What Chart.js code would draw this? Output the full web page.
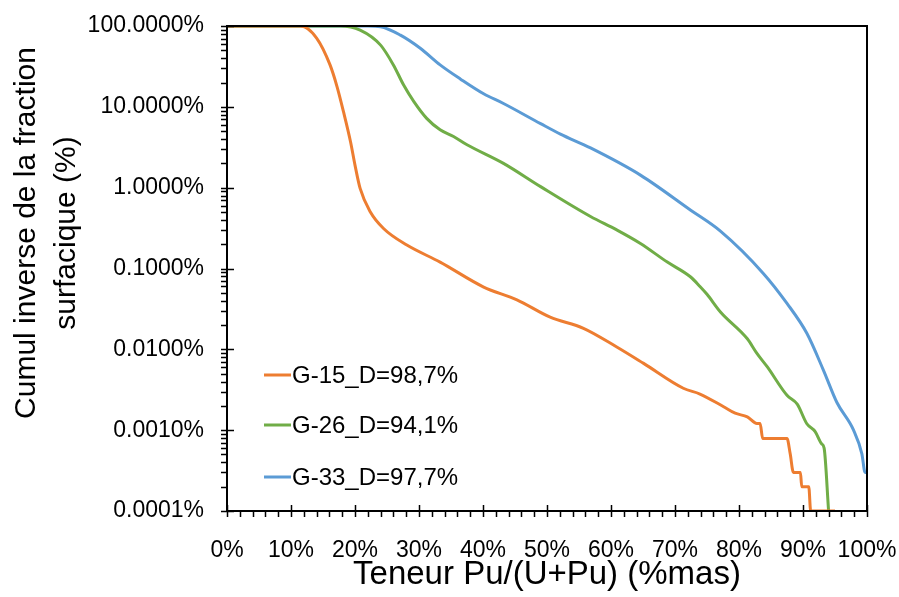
<!DOCTYPE html>
<html>
<head>
<meta charset="utf-8">
<script src="https://cdn.jsdelivr.net/npm/chart.js@4/dist/chart.umd.min.js"></script>
<style>
  html, body { margin: 0; padding: 0; background: #fff; }
  #wrap { width: 899px; height: 597px; }
</style>
</head>
<body>
<div id="wrap"><canvas id="c" width="899" height="597"></canvas></div>
<script>
const FONT = '"Liberation Sans", Arial, sans-serif';
const INK = '#000';

// x: Pu/(U+Pu) content (%), y: inverse cumulative surface fraction (%)
const g15X = [0, 11.5, 14.0, 16.1, 17.2, 18.2, 19.3, 20.0, 20.8, 22.4, 24.5, 28.1, 33.3, 40.1, 45.3, 50.5, 55.7, 60.9, 65.1, 71.3, 73.9, 77.6, 79.4, 81.3, 82.8, 83.3, 83.7, 87.5, 88.0, 88.5, 89.6, 89.8, 90.9, 91.2, 95.0];
const g15Y = [100, 100, 71, 33, 17.7, 8.7, 3.7, 1.9, 0.98, 0.50, 0.31, 0.195, 0.12, 0.059, 0.041, 0.025, 0.0182, 0.0107, 0.0067, 0.0033, 0.0028, 0.00195, 0.00162, 0.00146, 0.00121, 0.00121, 0.00079, 0.00079, 0.00051, 0.0003, 0.0003, 0.0002, 0.0002, 0.0001, 0.0001];

const g26X = [0, 17.7, 20.8, 24.0, 26.0, 27.6, 29.2, 31.2, 33.3, 35.4, 37.5, 43.2, 49.0, 56.8, 60.9, 64.6, 68.8, 72.4, 73.9, 75.0, 77.1, 81.3, 82.8, 84.4, 87.5, 89.1, 90.6, 91.9, 92.9, 93.3, 94.0];
const g26Y = [100, 100, 89, 58, 33, 18.6, 11.6, 7.2, 5.2, 4.3, 3.4, 2.0, 1.03, 0.44, 0.30, 0.204, 0.12, 0.079, 0.060, 0.048, 0.029, 0.0135, 0.0089, 0.0061, 0.0027, 0.0021, 0.0012, 0.00096, 0.00068, 0.0006, 0.0001];

const g33X = [0, 22.0, 24.0, 27.1, 30.2, 33.3, 36.5, 40.1, 43.2, 49.0, 52.1, 56.8, 64.6, 72.4, 77.1, 83.8, 87.5, 90.6, 93.2, 95.3, 97.9, 99.2, 99.7, 100];
const g33Y = [100, 100, 98, 77, 53, 33, 22, 14.5, 11, 6.2, 4.6, 3.1, 1.43, 0.53, 0.29, 0.087, 0.037, 0.0158, 0.0055, 0.0022, 0.001, 0.00051, 0.0003, 0.0003];

const seriesLabels = ['G-15_D=98,7%', 'G-26_D=94,1%', 'G-33_D=97,7%'];
const seriesColors = ['#ED7D31', '#70AD47', '#5B9BD5'];
const xTicks = [0, 10, 20, 30, 40, 50, 60, 70, 80, 90, 100];
const yTicks = [0.0001, 0.001, 0.01, 0.1, 1, 10, 100];
const yTitle = ['Cumul inverse de la fraction', 'surfacique (%)'];
const xTitle = 'Teneur Pu/(U+Pu) (%mas)';

const pts = (xs, ys) => xs.map((x, i) => ({ x, y: ys[i] }));

// frame, tick marks, y title and the in-plot legend
const decor = {
  id: 'decor',
  afterDraw(chart) {
    const { ctx, chartArea: a, scales: { x, y } } = chart;
    ctx.save();
    ctx.strokeStyle = INK;
    ctx.lineWidth = 2;
    ctx.strokeRect(a.left, a.top, a.right - a.left, a.bottom - a.top);

    ctx.lineWidth = 1.5;
    ctx.beginPath();
    for (let v = 0; v <= 100; v += 2) {
      const px = Math.round(x.getPixelForValue(v)) + 0.5;
      const major = v % 10 === 0;
      ctx.moveTo(px, a.bottom + (major ? -6 : 0));
      ctx.lineTo(px, a.bottom + 6);
    }
    for (let e = -4; e <= 2; e++) {
      const py = Math.round(y.getPixelForValue(Math.pow(10, e))) + 0.5;
      ctx.moveTo(a.left - 6, py);
      ctx.lineTo(a.left + 7, py);
      if (e < 2) {
        for (let k = 2; k <= 9; k++) {
          const pm = Math.round(y.getPixelForValue(k * Math.pow(10, e))) + 0.5;
          ctx.moveTo(a.left - 6, pm);
          ctx.lineTo(a.left, pm);
        }
      }
    }
    ctx.stroke();

    ctx.fillStyle = INK;
    ctx.font = '30px ' + FONT;
    ctx.textAlign = 'center';
    ctx.textBaseline = 'middle';
    ctx.save();
    ctx.translate(27, 233);
    ctx.rotate(-Math.PI / 2);
    ctx.fillText(yTitle[0], 0, 0);
    ctx.fillText(yTitle[1], 0, 40);
    ctx.restore();

    ctx.font = '24px ' + FONT;
    ctx.textAlign = 'left';
    const rows = [375, 425, 477];
    chart.data.datasets.forEach((ds, i) => {
      ctx.strokeStyle = ds.borderColor;
      ctx.lineWidth = 3;
      ctx.beginPath();
      ctx.moveTo(264, rows[i]);
      ctx.lineTo(291, rows[i]);
      ctx.stroke();
      ctx.fillStyle = INK;
      ctx.fillText(ds.label, 292, rows[i] + 1);
    });
    ctx.restore();
  }
};

new Chart(document.getElementById('c'), {
  type: 'line',
  data: {
    datasets: [pts(g15X, g15Y), pts(g26X, g26Y), pts(g33X, g33Y)].map((d, i) => ({
      label: seriesLabels[i],
      data: d,
      borderColor: seriesColors[i],
      backgroundColor: seriesColors[i],
      borderWidth: 3,
      pointRadius: 0,
      cubicInterpolationMode: 'monotone',
      fill: false
    }))
  },
  options: {
    responsive: false,
    animation: false,
    layout: { padding: { left: 0, right: 32, top: 26, bottom: 0 } },
    plugins: { legend: { display: false }, tooltip: { enabled: false } },
    scales: {
      x: {
        type: 'linear', min: 0, max: 100,
        afterBuildTicks: s => { s.ticks = xTicks.map(value => ({ value })); },
        afterFit: s => { s.height = 86; s.paddingLeft = 0; s.paddingRight = 0; },
        grid: { display: false, drawTicks: false },
        border: { display: false },
        ticks: { color: INK, padding: 26, maxRotation: 0, font: { family: FONT, size: 23 }, callback: v => v + '%' },
        title: { display: true, text: xTitle, color: INK, font: { family: FONT, size: 33 }, padding: { top: 0, bottom: 2 } }
      },
      y: {
        type: 'logarithmic', min: 0.0001, max: 100,
        afterBuildTicks: s => { s.ticks = yTicks.map(value => ({ value, major: true })); },
        afterFit: s => { s.width = 227; s.paddingTop = 0; s.paddingBottom = 0; },
        grid: { display: false, drawTicks: false },
        border: { display: false },
        ticks: { color: INK, padding: 23, font: { family: FONT, size: 23 }, callback: v => v.toFixed(4) + '%' }
      }
    }
  },
  plugins: [decor]
});
</script>
</body>
</html>
